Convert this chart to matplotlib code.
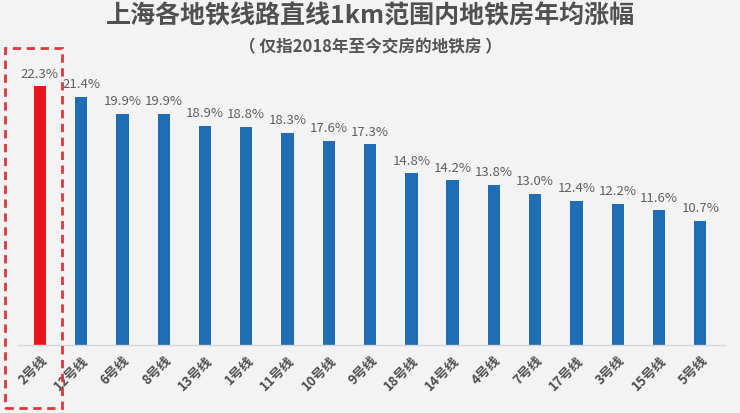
import matplotlib
matplotlib.use("Agg")
import matplotlib.pyplot as plt
from matplotlib.patches import Rectangle

plt.rcParams['font.family'] = ['Noto Sans CJK SC', 'DejaVu Sans']

lines = ["2号线", "12号线", "6号线", "8号线", "13号线", "1号线", "11号线", "10号线", "9号线",
         "18号线", "14号线", "4号线", "7号线", "17号线", "3号线", "15号线", "5号线"]
growth = [22.3, 21.4, 19.9, 19.9, 18.9, 18.8, 18.3, 17.6, 17.3,
          14.8, 14.2, 13.8, 13.0, 12.4, 12.2, 11.6, 10.7]
highlight = "2号线"

bg = "#f3f3f3"
fig = plt.figure(figsize=(7.40, 4.13), dpi=100, facecolor=bg)
ax = fig.add_axes([18 / 740, 68 / 413, 707 / 740, 305 / 413], facecolor=bg)

x = list(range(len(lines)))
colors = ["#e8161a" if n == highlight else "#1f6db5" for n in lines]
bars = ax.bar(x, growth, width=0.3, color=colors, zorder=2)

for b, v in zip(bars, growth):
    ax.text(b.get_x() + b.get_width() / 2, v + 0.5, f"{v:.1f}%", ha="center", va="bottom",
            fontsize=9.5, color="#606060", fontstretch="condensed")

ax.set_xlim(-0.53, 16.6)
ax.set_ylim(0, 26.3)
ax.set_yticks([])
ax.set_xticks(x)
ax.set_xticklabels(lines, rotation=45, ha="right", rotation_mode="anchor",
                   fontsize=9.5, color="#505050", fontweight="bold")
ax.tick_params(axis="x", length=0, pad=6)
for s in ["top", "right", "left"]:
    ax.spines[s].set_visible(False)
ax.spines["bottom"].set_color("#d6d6d6")
ax.spines["bottom"].set_linewidth(1)

fig.text(0.5, 1 - 16 / 413, "上海各地铁线路直线1km范围内地铁房年均涨幅", ha="center", va="center",
         fontsize=18, fontweight="bold", color="#505050")
fig.text(0.5, 1 - 47 / 413, "（ 仅指2018年至今交房的地铁房 ）", ha="center", va="center",
         fontsize=12, fontweight="bold", color="#555555")

box = Rectangle((5 / 740, 1 - 408 / 413), 57 / 740, 360 / 413, transform=fig.transFigure,
                fill=False, edgecolor="#d9393c", linestyle=(0, (3, 2)), linewidth=2)
fig.patches.append(box)

fig.savefig("out.png", dpi=100, facecolor=bg)
